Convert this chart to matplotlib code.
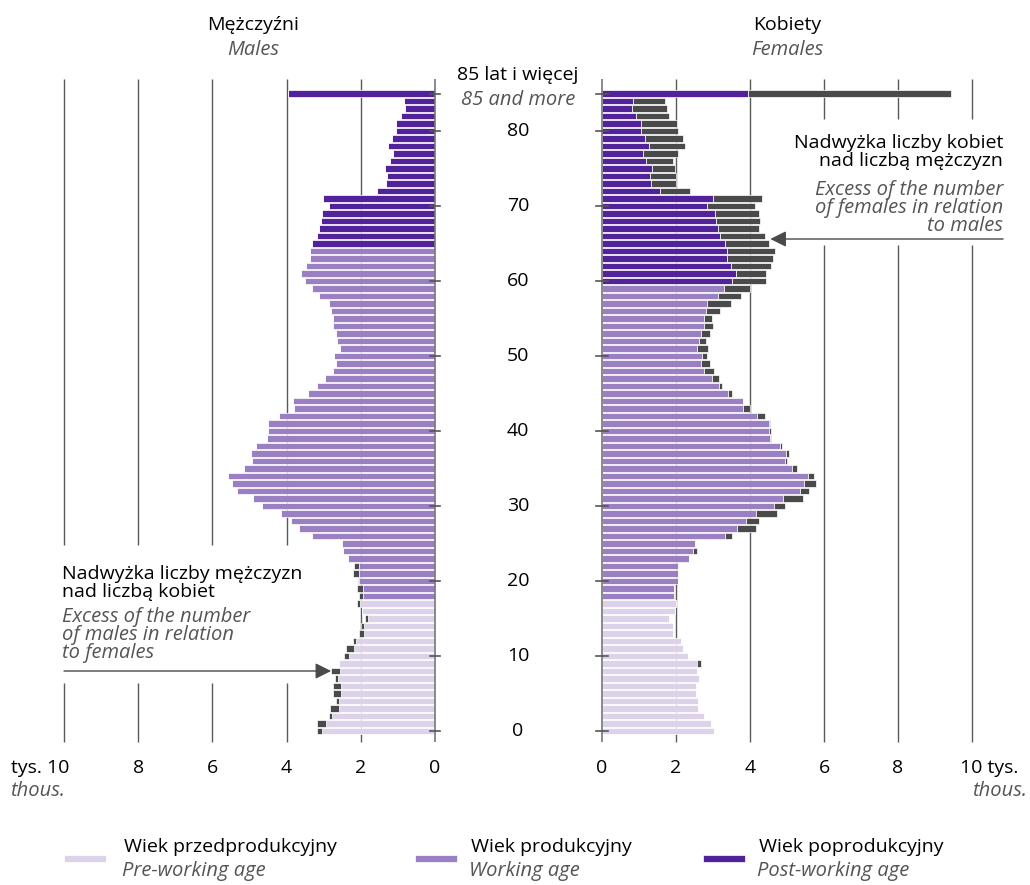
import numpy as np
import matplotlib
matplotlib.use("Agg")
import matplotlib.pyplot as plt
from matplotlib.patches import Rectangle

plt.rcParams['font.family'] = ['Open Sans', 'DejaVu Sans']

# dane: liczba ludności (tys.) wg wieku, 85 = 85 lat i więcej
ages = np.arange(0, 86)
males = [3.18, 3.18, 2.87, 2.83, 2.68, 2.76, 2.76, 2.70, 2.80, 2.58,
         2.44, 2.40, 2.22, 2.04, 2.00, 1.90, 1.98, 2.09, 2.05, 2.10,
         2.07, 2.22, 2.18, 2.35, 2.47, 2.51, 3.32, 3.66, 3.88, 4.16,
         4.65, 4.90, 5.35, 5.46, 5.57, 5.14, 4.94, 4.96, 4.82, 4.53,
         4.50, 4.50, 4.20, 3.81, 3.82, 3.41, 3.17, 2.96, 2.75, 2.67,
         2.71, 2.56, 2.63, 2.67, 2.76, 2.75, 2.80, 2.85, 3.14, 3.31,
         3.50, 3.61, 3.48, 3.37, 3.37, 3.32, 3.19, 3.14, 3.07, 3.05,
         2.85, 3.01, 1.56, 1.32, 1.29, 1.34, 1.20, 1.12, 1.28, 1.15,
         1.05, 1.06, 0.92, 0.81, 0.83, 3.95]
females = [3.04, 2.94, 2.77, 2.59, 2.60, 2.53, 2.53, 2.62, 2.56, 2.68,
           2.32, 2.19, 2.14, 1.91, 1.91, 1.80, 1.96, 2.01, 1.94, 1.94,
           2.05, 2.05, 2.05, 2.34, 2.56, 2.50, 3.50, 4.15, 4.23, 4.74,
           4.94, 5.43, 5.59, 5.79, 5.73, 5.27, 5.00, 5.05, 4.86, 4.56,
           4.58, 4.54, 4.41, 4.01, 3.82, 3.51, 3.25, 3.15, 3.04, 2.92,
           2.83, 2.86, 2.82, 2.93, 3.01, 2.98, 3.18, 3.49, 3.75, 4.00,
           4.42, 4.42, 4.58, 4.63, 4.67, 4.50, 4.41, 4.24, 4.28, 4.25,
           4.14, 4.32, 2.37, 2.00, 2.00, 1.97, 1.93, 2.06, 2.25, 2.18,
           2.06, 2.03, 1.80, 1.77, 1.69, 9.44]
# granice grup wieku: produkcyjny od 18, poprodukcyjny M 65+, K 60+
working_from = 18
post_from_m = 65
post_from_f = 60
age_labels = [0, 10, 20, 30, 40, 50, 60, 70, 80]
x_ticks = [0, 2, 4, 6, 8, 10]

C_PRE = '#dcd3ea'
C_WORK = '#9a7fc3'
C_POST = '#52229a'
C_EXC = '#4a4a4a'
C_GRID = '#5a5a5a'
C_GRAY = '#555555'
FS = 14
FS_IT = 14.5

W, H = 1030, 885
fig = plt.figure(figsize=(W / 100, H / 100), dpi=100)


def fx(x):
    return x / W


def fy(y):
    return 1 - y / H


ax_m = fig.add_axes([fx(64), fy(742.25), 371 / W, (742.25 - 78.5) / H])
ax_f = fig.add_axes([fx(602), fy(742.25), 370 / W, (742.25 - 78.5) / H])
ax_m.set_xlim(10, 0)
ax_f.set_xlim(0, 10)


def colors_for(post_from):
    out = []
    for a in ages:
        if a < working_from:
            out.append(C_PRE)
        elif a < post_from:
            out.append(C_WORK)
        else:
            out.append(C_POST)
    return out


m = np.array(males)
f = np.array(females)
base = np.minimum(m, f)

for ax, own, post_from in [(ax_m, m, post_from_m), (ax_f, f, post_from_f)]:
    ax.set_ylim(-1.5, 87)
    ax.axis('off')
    excess = np.clip(own - base, 0, None)
    ax.barh(ages, base, height=0.92, color=colors_for(post_from),
            edgecolor='white', linewidth=0.5, zorder=3)
    ax.barh(ages, excess, left=base, height=0.92, color=C_EXC,
            edgecolor='white', linewidth=0.5, zorder=3)
    # oś zero
    ax.vlines(0, -1.5, 87, color='#777777', lw=1.2, zorder=4, clip_on=False)

# linie siatki (przerwane pod opisami)
for v in [2, 4, 6, 8, 10]:
    if v >= 4:
        ax_m.vlines(v, -1.5, 6.4, color=C_GRID, lw=1, zorder=1, clip_on=False)
        ax_m.vlines(v, 24.8, 87, color=C_GRID, lw=1, zorder=1, clip_on=False)
    else:
        ax_m.vlines(v, -1.5, 87, color=C_GRID, lw=1, zorder=1, clip_on=False)
    if v >= 6:
        ax_f.vlines(v, -1.5, 64.8, color=C_GRID, lw=1, zorder=1, clip_on=False)
        ax_f.vlines(v, 81.6, 87, color=C_GRID, lw=1, zorder=1, clip_on=False)
    else:
        ax_f.vlines(v, -1.5, 87, color=C_GRID, lw=1, zorder=1, clip_on=False)

for a in age_labels + [85]:
    ax_m.plot([-0.13, 0.13], [a, a], color='#555555', lw=1.2, clip_on=False, zorder=5)
    ax_f.plot([-0.15, 0.15], [a, a], color='#555555', lw=1.2, clip_on=False, zorder=5)

# etykiety wieku w środku
for a in age_labels:
    fig.text(fx(518), fy(731 - 7.5 * a), str(a), ha='center', va='center', fontsize=FS)
fig.text(fx(518), fy(75), '85 lat i więcej', ha='center', va='center', fontsize=FS)
fig.text(fx(518), fy(100), '85 and more', ha='center', va='center', fontsize=FS_IT,
         style='italic', color=C_GRAY)

# tytuły
fig.text(fx(253), fy(25), 'Mężczyźni', ha='center', va='center', fontsize=FS)
fig.text(fx(253), fy(50), 'Males', ha='center', va='center', fontsize=FS_IT,
         style='italic', color=C_GRAY)
fig.text(fx(787), fy(25), 'Kobiety', ha='center', va='center', fontsize=FS)
fig.text(fx(787), fy(50), 'Females', ha='center', va='center', fontsize=FS_IT,
         style='italic', color=C_GRAY)

# opisy osi x
for v in x_ticks:
    if v < 10:
        fig.text(fx(435 - 37.1 * v), fy(768), str(v), ha='center', va='center', fontsize=FS)
        fig.text(fx(602 + 37.0 * v), fy(768), str(v), ha='center', va='center', fontsize=FS)
fig.text(fx(69), fy(768), 'tys. 10', ha='right', va='center', fontsize=FS)
fig.text(fx(10), fy(791), 'thous.', ha='left', va='center', fontsize=FS_IT,
         style='italic', color=C_GRAY)
fig.text(fx(960), fy(768), '10 tys.', ha='left', va='center', fontsize=FS)
fig.text(fx(1027), fy(791), 'thous.', ha='right', va='center', fontsize=FS_IT,
         style='italic', color=C_GRAY)

# opis nadwyżki mężczyzn
fig.text(fx(62), fy(583), 'Nadwyżka liczby mężczyzn\nnad liczbą kobiet', ha='left',
         va='center', fontsize=FS, linespacing=0.95)
fig.text(fx(62), fy(635), 'Excess of the number\nof males in relation\nto females', ha='left',
         va='center', fontsize=FS_IT, linespacing=0.88, style='italic', color=C_GRAY)
ax_m.annotate('', xy=(2.8, 8), xytext=(10, 8),
              arrowprops=dict(arrowstyle='-|>', color='#4a4a4a', lw=1, mutation_scale=24,
                              shrinkA=0, shrinkB=0), zorder=6)

# opis nadwyżki kobiet
fig.text(fx(1003), fy(152), 'Nadwyżka liczby kobiet\nnad liczbą mężczyzn', ha='right',
         va='center', fontsize=FS, linespacing=0.95)
fig.text(fx(1003), fy(208), 'Excess of the number\nof females in relation\nto males', ha='right',
         va='center', fontsize=FS_IT, linespacing=0.88, style='italic', color=C_GRAY)
ax_f.annotate('', xy=(4.55, 65.6), xytext=(10.84, 65.6),
              arrowprops=dict(arrowstyle='-|>', color='#4a4a4a', lw=1, mutation_scale=24,
                              shrinkA=0, shrinkB=0), zorder=6, annotation_clip=False)

# legenda
legend_items = [
    (64, 124, C_PRE, 'Wiek przedprodukcyjny', 'Pre-working age'),
    (415, 471, C_WORK, 'Wiek produkcyjny', 'Working age'),
    (703, 759, C_POST, 'Wiek poprodukcyjny', 'Post-working age'),
]
for px, tx, col, pl, en in legend_items:
    fig.patches.append(Rectangle((fx(px), fy(862)), 42 / W, 7 / H, transform=fig.transFigure,
                                 facecolor=col, edgecolor='white', lw=0.5))
    fig.text(fx(tx), fy(847), pl, ha='left', va='center', fontsize=FS)
    fig.text(fx(tx - 2), fy(871), en, ha='left', va='center', fontsize=FS_IT,
             style='italic', color=C_GRAY)

fig.savefig('out.png', dpi=100)
